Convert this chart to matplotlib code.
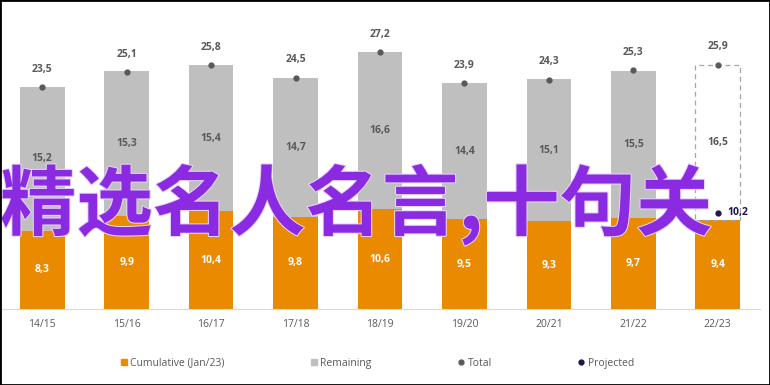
import matplotlib.pyplot as plt
import matplotlib.patheffects as pe
from matplotlib.patches import Rectangle
from matplotlib.lines import Line2D
import numpy as np

seasons = ["14/15", "15/16", "16/17", "17/18", "18/19", "19/20", "20/21", "21/22", "22/23"]
cumulative = [8.3, 9.9, 10.4, 9.8, 10.6, 9.5, 9.3, 9.7, 9.4]
remaining = [15.2, 15.3, 15.4, 14.7, 16.6, 14.4, 15.1, 15.5, 16.5]
totals = [23.5, 25.1, 25.8, 24.5, 27.2, 23.9, 24.3, 25.3, 25.9]
projected = 10.2
overlay = "精选名人名言,十句关"

orange = "#EA8A00"
grey = "#BFBFBF"
dark = "#595959"
navy = "#1F1450"

plt.rcParams['font.family'] = ['Open Sans', 'DejaVu Sans']

fig = plt.figure(figsize=(7.7, 3.85), dpi=100)
ax = fig.add_axes([0.0, 0.197, 0.987, 0.736])

x = np.arange(len(seasons))
w = 0.53
ax.bar(x, cumulative, w, color=orange, zorder=2)
ax.bar(x[:-1], remaining[:-1], w, bottom=cumulative[:-1], color=grey, zorder=2)
ax.bar(x[-1], remaining[-1], w, bottom=cumulative[-1], facecolor="none",
       edgecolor="#A6A6A6", linestyle=(0, (4, 3)), linewidth=0.9, zorder=2)

ax.plot(x, totals, "o", color=dark, markersize=3.5, zorder=3)
ax.plot(x[-1], projected, "o", color=navy, markersize=3.5, zorder=3)

for i in x:
    ax.annotate(f"{totals[i]:.1f}".replace(".", ","), (i, totals[i]), xytext=(0, 9),
                textcoords="offset points", ha="center", va="bottom",
                fontsize=7.5, fontweight="bold", color=dark)
    ax.text(i, cumulative[i] + remaining[i] / 2, f"{remaining[i]:.1f}".replace(".", ","),
            ha="center", va="center", fontsize=7.5, fontweight="bold", color=dark)
    ax.text(i, cumulative[i] / 2, f"{cumulative[i]:.1f}".replace(".", ","),
            ha="center", va="center", fontsize=7.5, fontweight="bold", color="white")
ax.annotate(f"{projected:.1f}".replace(".", ","), (x[-1], projected), xytext=(7, 0),
            textcoords="offset points", ha="left", va="center",
            fontsize=7.5, fontweight="bold", color=navy)

ax.set_xlim(-0.5, len(seasons) - 0.5)
ax.set_ylim(0, 30)
ax.set_xticks(x)
ax.set_xticklabels(seasons, fontsize=7.5, color=dark)
ax.tick_params(axis="x", length=0, pad=7)
ax.set_yticks([])
for s in ["top", "left", "right"]:
    ax.spines[s].set_visible(False)
ax.spines["bottom"].set_color("#D9D9D9")

handles = [
    Line2D([], [], marker="s", linestyle="none", color=orange, markersize=5),
    Line2D([], [], marker="s", linestyle="none", color=grey, markersize=5),
    Line2D([], [], marker="o", linestyle="none", color=dark, markersize=3.5),
    Line2D([], [], marker="o", linestyle="none", color=navy, markersize=3.5),
]
labels = ["Cumulative (Jan/23)", "Remaining", "Total", "Projected"]
fig.legend(handles, labels, loc="center", bbox_to_anchor=(0.49, 0.057), ncol=4,
           frameon=False, fontsize=7.5, labelcolor=dark, handlelength=0.6,
           handletextpad=0.3, columnspacing=8.3)

fig.text(0.0, 0.468, overlay, fontsize=55, fontweight="bold", color="#8A2BE2",
         family=["Noto Sans CJK SC", "DejaVu Sans"], ha="left", va="center",
         path_effects=[pe.withStroke(linewidth=1.5, foreground="#E6D5F7")], zorder=10)

fig.patches.append(Rectangle((0, 0), 1, 1, transform=fig.transFigure, fill=False,
                             edgecolor="black", linewidth=2, zorder=20))

fig.savefig("out.png", dpi=100)
